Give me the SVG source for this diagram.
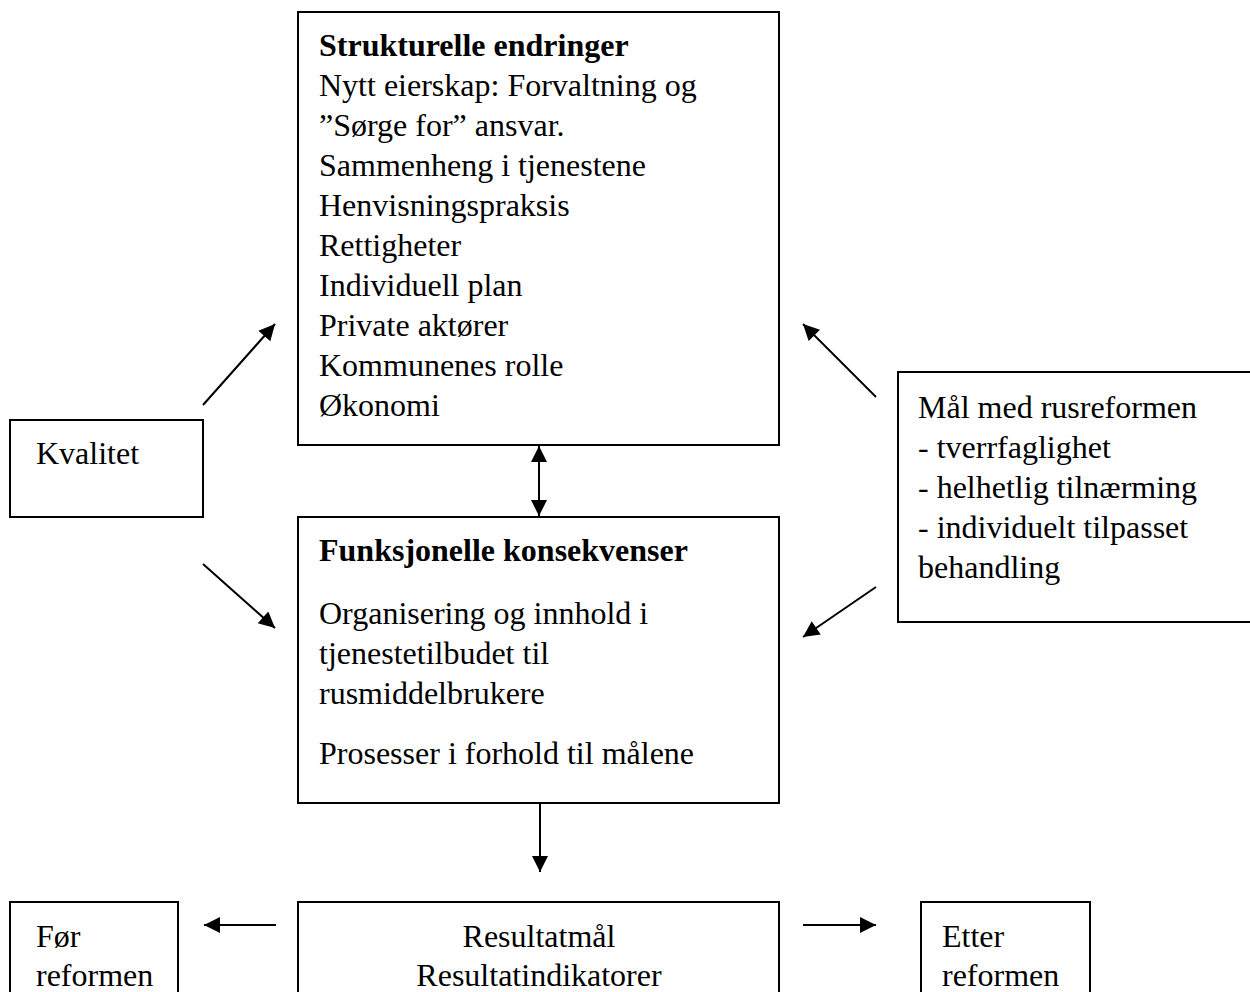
<svg xmlns="http://www.w3.org/2000/svg" width="1250" height="992" viewBox="0 0 1250 992">
<style>
.box{fill:#fff;stroke:#000;stroke-width:2}
text{font-family:"Liberation Serif","Times New Roman",serif;font-size:32px;fill:#000}
.b{font-weight:bold}
.c{stroke:#000;stroke-width:2;fill:none}
</style>
<defs>
<marker id="ah" viewBox="0 0 10 10" refX="10" refY="5" markerWidth="10" markerHeight="8" markerUnits="strokeWidth" orient="auto-start-reverse">
<path d="M0,0 L10,5 L0,10 z" fill="#000"/>
</marker>
</defs>
<rect width="1250" height="992" fill="#fff"/>
<g id="strukturelle">
<rect class="box" x="298" y="12" width="481" height="433"/>
<text class="b" x="319" y="56">Strukturelle endringer</text>
<text x="319" y="96">Nytt eierskap: Forvaltning og</text>
<text x="319" y="136">”Sørge for” ansvar.</text>
<text x="319" y="176">Sammenheng i tjenestene</text>
<text x="319" y="216">Henvisningspraksis</text>
<text x="319" y="256">Rettigheter</text>
<text x="319" y="296">Individuell plan</text>
<text x="319" y="336">Private aktører</text>
<text x="319" y="376">Kommunenes rolle</text>
<text x="319" y="416">Økonomi</text>
</g>
<g id="kvalitet">
<rect class="box" x="10" y="420" width="193" height="97"/>
<text x="36" y="464">Kvalitet</text>
</g>
<g id="maal">
<rect class="box" x="898" y="372" width="360" height="250"/>
<text x="918" y="418">Mål med rusreformen</text>
<text x="918" y="458">- tverrfaglighet</text>
<text x="918" y="498">- helhetlig tilnærming</text>
<text x="918" y="538">- individuelt tilpasset</text>
<text x="918" y="578">behandling</text>
</g>
<g id="funksjonelle">
<rect class="box" x="298" y="517" width="481" height="286"/>
<text class="b" x="319" y="561">Funksjonelle konsekvenser</text>
<text x="319" y="624">Organisering og innhold i</text>
<text x="319" y="664">tjenestetilbudet til</text>
<text x="319" y="704">rusmiddelbrukere</text>
<text x="319" y="764">Prosesser i forhold til målene</text>
</g>
<g id="resultat">
<rect class="box" x="298" y="902" width="481" height="110"/>
<text x="539" y="947" text-anchor="middle">Resultatmål</text>
<text x="539" y="986" text-anchor="middle">Resultatindikatorer</text>
</g>
<g id="for">
<rect class="box" x="10" y="902" width="168" height="110"/>
<text x="36" y="947">Før</text>
<text x="36" y="986">reformen</text>
</g>
<g id="etter">
<rect class="box" x="921" y="902" width="169" height="110"/>
<text x="942" y="947">Etter</text>
<text x="942" y="986">reformen</text>
</g>
<g id="connectors">
<line class="c" x1="203" y1="405" x2="275" y2="324" marker-end="url(#ah)"/>
<line class="c" x1="203" y1="564" x2="275" y2="628" marker-end="url(#ah)"/>
<line class="c" x1="876" y1="397" x2="803" y2="324" marker-end="url(#ah)"/>
<line class="c" x1="876" y1="587" x2="803" y2="637" marker-end="url(#ah)"/>
<line class="c" x1="539" y1="446" x2="539" y2="516" marker-start="url(#ah)" marker-end="url(#ah)"/>
<line class="c" x1="540" y1="804" x2="540" y2="872" marker-end="url(#ah)"/>
<line class="c" x1="276" y1="925" x2="204" y2="925" marker-end="url(#ah)"/>
<line class="c" x1="803" y1="925" x2="876" y2="925" marker-end="url(#ah)"/>
</g>
</svg>
